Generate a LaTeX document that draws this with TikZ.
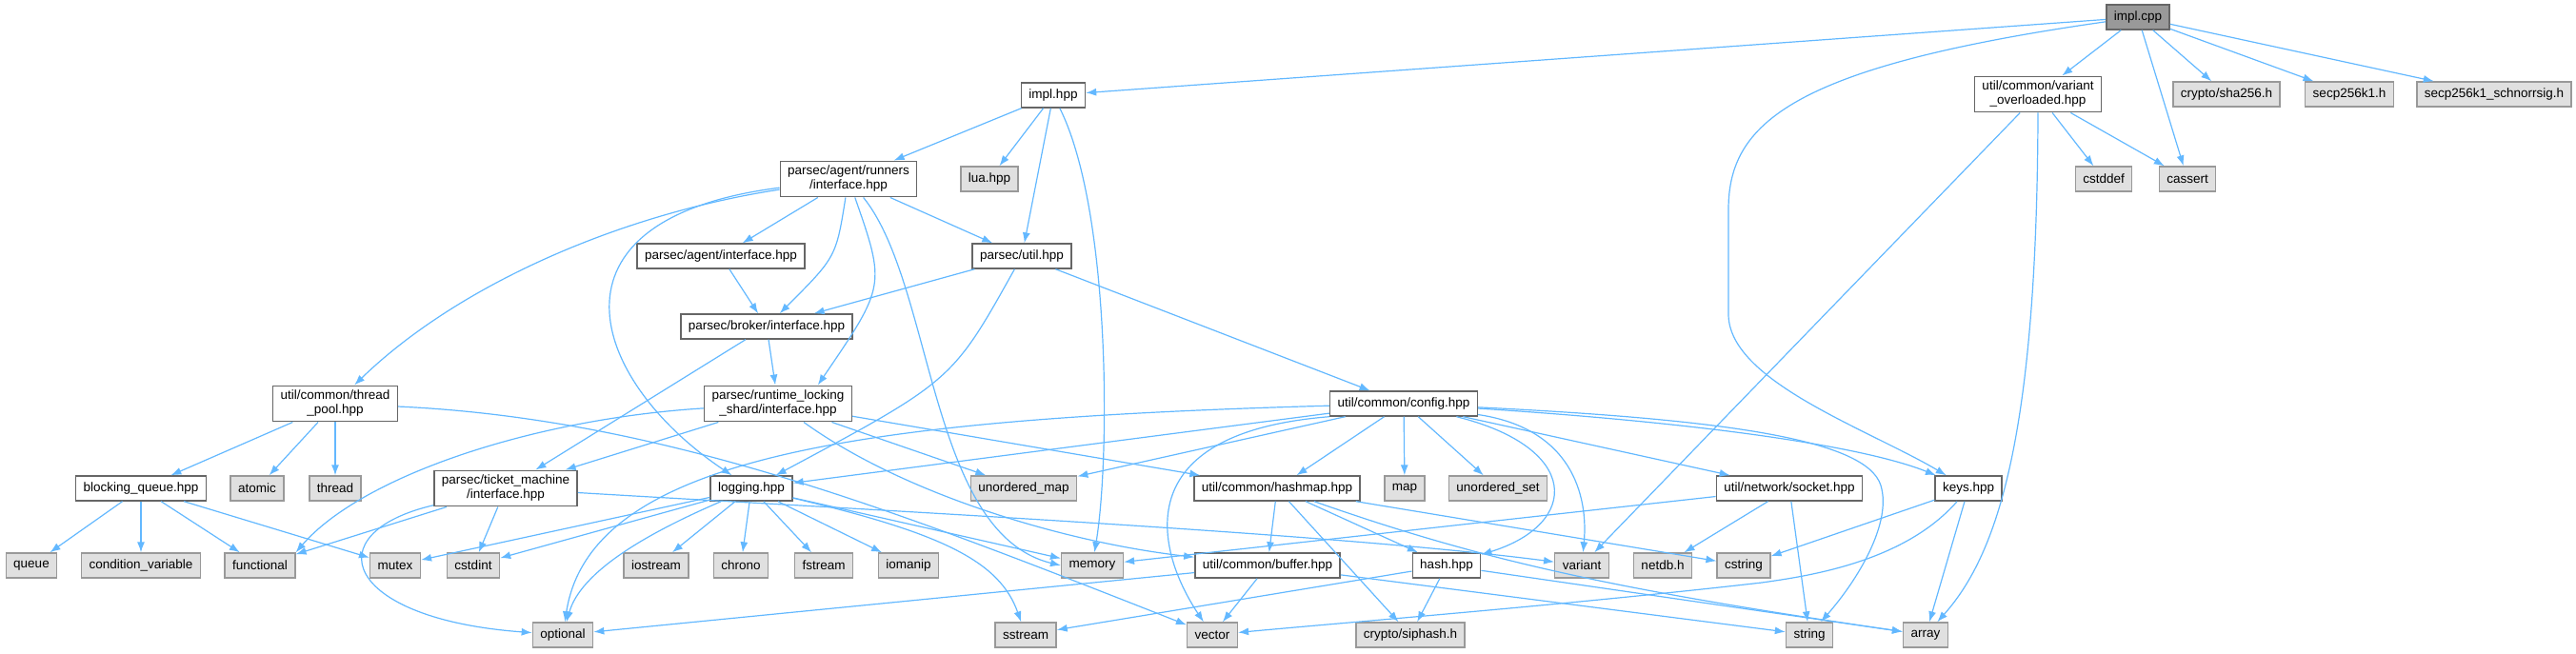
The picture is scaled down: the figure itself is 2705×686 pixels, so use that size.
\documentclass[tikz,border=0pt]{standalone}
\usepackage{fontspec}
\setmainfont{Liberation Sans}
\usetikzlibrary{arrows.meta}
\definecolor{edgeblue}{HTML}{63B8FF}
\definecolor{sysfill}{HTML}{E0E0E0}
\definecolor{sysline}{HTML}{999999}
\definecolor{hdrline}{HTML}{666666}
\definecolor{rootfill}{HTML}{999999}
\begin{document}
\begin{tikzpicture}[x=0.5pt,y=-0.5pt,
    hdr/.style={draw=hdrline, fill=white, line width=0.7pt, inner xsep=4pt, inner ysep=2.5pt,
        minimum height=13pt, align=center, font=\fontsize{6.75}{7.5}\selectfont},
    sys/.style={hdr, draw=sysline, fill=sysfill},
    root/.style={hdr, fill=rootfill},
    dep/.style={edgeblue, line width=0.6pt, -{Latex[length=5.5pt,width=4pt]}}]
    \useasboundingbox (0,0) rectangle (2705,686);
    % headers of the project
    \node[root] (implcpp) at (2245,18) {impl.cpp};
    \node[hdr] (implhpp) at (1106,100) {impl.hpp};
    \node[hdr] (varover) at (2140,99) {util/common/variant\\\_overloaded.hpp};
    \node[hdr] (runners) at (891,188) {parsec/agent/runners\\/interface.hpp};
    \node[hdr] (agentif) at (757,269) {parsec/agent/interface.hpp};
    \node[hdr] (util) at (1073,269) {parsec/util.hpp};
    \node[hdr] (broker) at (805,343) {parsec/broker/interface.hpp};
    \node[hdr] (threadpool) at (352,424) {util/common/thread\\\_pool.hpp};
    \node[hdr] (rtlock) at (817,424) {parsec/runtime\_locking\\\_shard/interface.hpp};
    \node[hdr] (config) at (1474,424) {util/common/config.hpp};
    \node[hdr] (bqueue) at (148,513) {blocking\_queue.hpp};
    \node[hdr] (ticket) at (531,513) {parsec/ticket\_machine\\/interface.hpp};
    \node[hdr] (logging) at (789,513) {logging.hpp};
    \node[hdr] (hashmap) at (1341,513) {util/common/hashmap.hpp};
    \node[hdr] (socket) at (1879,513) {util/network/socket.hpp};
    \node[hdr] (keys) at (2067,513) {keys.hpp};
    \node[hdr] (buffer) at (1331,594) {util/common/buffer.hpp};
    \node[hdr] (hash) at (1519,594) {hash.hpp};
    % system headers
    \node[sys] (lua) at (1039,188) {lua.hpp};
    \node[sys] (sha) at (2338,99) {crypto/sha256.h};
    \node[sys] (secp) at (2467,99) {secp256k1.h};
    \node[sys] (schnorr) at (2619,99) {secp256k1\_schnorrsig.h};
    \node[sys] (cstddef) at (2209,188) {cstddef};
    \node[sys] (cassert) at (2297,188) {cassert};
    \node[sys] (atomic) at (270,513) {atomic};
    \node[sys] (thread) at (352,513) {thread};
    \node[sys] (umap) at (1075,513) {unordered\_map};
    \node[sys] (map) at (1475,513) {map};
    \node[sys] (uset) at (1573,513) {unordered\_set};
    \node[sys] (queue) at (33,594) {queue};
    \node[sys] (condvar) at (148,594) {condition\_variable};
    \node[sys] (functional) at (273,594) {functional};
    \node[sys] (mutex) at (415,594) {mutex};
    \node[sys] (cstdint) at (497,594) {cstdint};
    \node[sys] (iostream) at (689,594) {iostream};
    \node[sys] (chrono) at (778,594) {chrono};
    \node[sys] (fstream) at (865,594) {fstream};
    \node[sys] (iomanip) at (954,594) {iomanip};
    \node[sys] (memory) at (1147,594) {memory};
    \node[sys] (variant) at (1661,594) {variant};
    \node[sys] (netdb) at (1746,594) {netdb.h};
    \node[sys] (cstring) at (1831,594) {cstring};
    \node[sys] (optional) at (591,667) {optional};
    \node[sys] (sstream) at (1077,667) {sstream};
    \node[sys] (vector) at (1273,667) {vector};
    \node[sys] (siphash) at (1481,667) {crypto/siphash.h};
    \node[sys] (string) at (1900,667) {string};
    \node[sys] (array) at (2022,667) {array};
    % impl.cpp
    \draw[dep] (implcpp) -- (implhpp);
    \draw[dep] (implcpp) .. controls (1880,70) and (1815,130) .. (1815,220) -- (1815,330) .. controls (1815,400) and (1960,450) .. (keys);
    \foreach \t in {varover,cassert,sha,secp,schnorr} \draw[dep] (implcpp) -- (\t);
    \draw[dep] (varover) -- (variant);
    \draw[dep] (varover.south) .. controls (2139,450) and (2100,580) .. (array);
    \draw[dep] (varover) -- (cstddef);
    \draw[dep] (varover) -- (cassert);
    % impl.hpp and parsec
    \foreach \t in {runners,lua,util} \draw[dep] (implhpp) -- (\t);
    \draw[dep] (implhpp) .. controls (1166,220) and (1166,480) .. (memory);
    \draw[dep] (runners) .. controls (650,225) and (480,300) .. (threadpool);
    \draw[dep] (runners) .. controls (560,230) and (620,400) .. (logging);
    \draw[dep] (runners) -- (agentif);
    \draw[dep] (runners) .. controls (878,270) .. (broker);
    \draw[dep] (runners) .. controls (930,300) .. (rtlock.25);
    \draw[dep] (runners) .. controls (981,300) and (975,560) .. (memory.west);
    \draw[dep] (runners) -- (util);
    \draw[dep] (agentif) -- (broker);
    \draw[dep] (util) -- (broker);
    \draw[dep] (util) .. controls (1000,400) .. (logging);
    \draw[dep] (util) -- (config);
    \draw[dep] (broker) -- (rtlock);
    \draw[dep] (broker) -- (ticket);
    % thread pool
    \foreach \t in {bqueue,atomic,thread} \draw[dep] (threadpool) -- (\t);
    \draw[dep] (threadpool) .. controls (700,440) and (950,540) .. (vector);
    \foreach \t in {queue,condvar,functional,mutex} \draw[dep] (bqueue) -- (\t);
    % runtime locking shard
    \draw[dep] (rtlock) .. controls (560,440) and (380,500) .. (functional.north east);
    \draw[dep] (rtlock) -- (ticket);
    \draw[dep] (rtlock) -- (umap);
    \draw[dep] (rtlock) -- (hashmap);
    \draw[dep] (rtlock) .. controls (950,520) and (1120,570) .. (buffer);
    % ticket machine
    \draw[dep] (ticket) -- (functional);
    \draw[dep] (ticket) -- (cstdint);
    \draw[dep] (ticket) .. controls (330,560) and (360,650) .. (optional);
    \draw[dep] (ticket) .. controls (900,535) and (1400,560) .. (variant);
    % logging
    \foreach \t in {mutex,cstdint,iostream,chrono,fstream,iomanip,memory} \draw[dep] (logging) -- (\t);
    \draw[dep] (logging) .. controls (680,560) and (610,600) .. (optional);
    \draw[dep] (logging) .. controls (990,560) and (1050,590) .. (sstream);
    % config
    \draw[dep] (config) -- (logging);
    \draw[dep] (config) -- (umap);
    \draw[dep] (config) .. controls (900,440) and (620,480) .. (optional);
    \draw[dep] (config.south west) .. controls (1180,455) and (1215,580) .. (vector);
    \foreach \t in {hashmap,map,uset,socket} \draw[dep] (config) -- (\t);
    \draw[dep] (config) .. controls (1660,470) and (1660,550) .. (hash);
    \draw[dep] (config) .. controls (1650,450) and (1668,520) .. (variant);
    \draw[dep] (config) .. controls (1800,445) and (1960,470) .. (keys);
    \draw[dep] (config) .. controls (1800,440) and (1960,460) .. (1975,510) .. controls (1987,550) and (1950,610) .. (string);
    % hashmap, buffer, hash
    \foreach \t in {buffer,siphash,hash,cstring} \draw[dep] (hashmap) -- (\t);
    \draw[dep] (hashmap) .. controls (1560,590) and (1700,620) .. (array);
    \foreach \t in {optional,vector,string} \draw[dep] (buffer) -- (\t);
    \foreach \t in {sstream,siphash,array} \draw[dep] (hash) -- (\t);
    % socket and keys
    \foreach \t in {memory,netdb,string} \draw[dep] (socket) -- (\t);
    \draw[dep] (keys) -- (cstring);
    \draw[dep] (keys) .. controls (2000,590) and (1900,605) .. (1850,612) .. controls (1650,635) and (1400,655) .. (vector);
    \draw[dep] (keys) -- (array);
\end{tikzpicture}
\end{document}
